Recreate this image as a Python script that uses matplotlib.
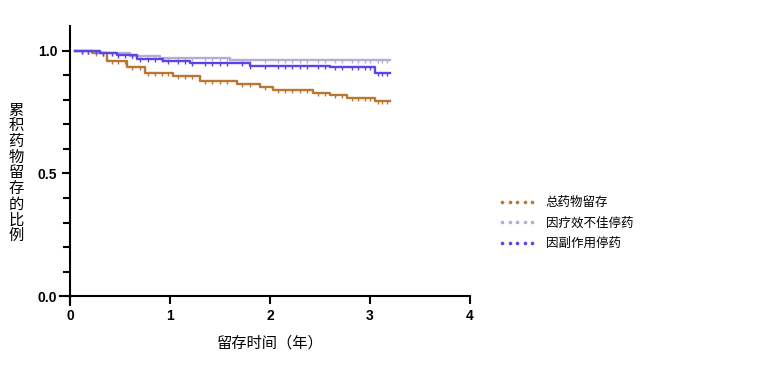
import numpy as np
import matplotlib
matplotlib.use("Agg")
import matplotlib.pyplot as plt
from matplotlib.lines import Line2D

plt.rcParams['font.family'] = ['Noto Sans CJK SC', 'DejaVu Sans']

# ---- data ----
series_names = ["总药物留存", "因疗效不佳停药", "因副作用停药"]

total_t = [0.05, 0.22, 0.37, 0.57, 0.75, 1.03, 1.30, 1.67, 1.90, 2.03, 2.43, 2.60, 2.77, 3.05, 3.20]
total_s = [1.00, 0.990, 0.960, 0.936, 0.909, 0.896, 0.879, 0.866, 0.852, 0.841, 0.830, 0.820, 0.810, 0.795, 0.795]

eff_t = [0.05, 0.30, 0.60, 0.90, 1.60, 3.20]
eff_s = [1.00, 0.993, 0.980, 0.972, 0.962, 0.962]

side_t = [0.05, 0.30, 0.47, 0.67, 0.93, 1.20, 1.80, 2.60, 3.05, 3.20]
side_s = [1.00, 0.993, 0.982, 0.969, 0.958, 0.950, 0.940, 0.935, 0.909, 0.909]

censor_times = [0.12, 0.18, 0.26, 0.33, 0.42, 0.48, 0.55, 0.62, 0.70, 0.78, 0.85, 0.92, 0.98,
                1.08, 1.15, 1.22, 1.35, 1.42, 1.50, 1.57, 1.72, 1.80, 1.95, 2.08, 2.15, 2.22,
                2.30, 2.37, 2.48, 2.55, 2.65, 2.72, 2.82, 2.88, 2.95, 3.00, 3.08, 3.12, 3.17]

colors = ["#BC7634", "#B4ABD6", "#5A46E6"]

x_ticks = [0, 1, 2, 3, 4]
y_major = [0.0, 0.5, 1.0]
y_labels = ["0.0", "0.5", "1.0"]

# ---- figure ----
fig = plt.figure(figsize=(7.59, 3.67), dpi=100)
ax = fig.add_axes([0.0922 - 0.0132, 0.170, 0.5402, 0.758])

def step_val(ts, ss, x):
    i = np.searchsorted(ts, x, side='right') - 1
    i = max(0, min(i, len(ss) - 1))
    return ss[i]

for ts, ss, c in zip([total_t, eff_t, side_t], [total_s, eff_s, side_s], colors):
    ax.step(ts, ss, where='post', color=c, lw=1.7, zorder=3)
    cx = [t for t in censor_times if ts[0] < t < ts[-1]]
    cy = [step_val(ts, ss, t) for t in cx]
    ax.plot(cx, cy, ls='none', marker=3, ms=2.5, mew=1.0, color=c, zorder=3)

ax.set_xlim(-0.1, 4.0)
ax.set_ylim(-0.035, 1.1)
ax.spines['left'].set_position(('data', 0))
ax.spines['bottom'].set_position(('data', 0))
ax.spines['top'].set_visible(False)
ax.spines['right'].set_visible(False)
for s in ['left', 'bottom']:
    ax.spines[s].set_linewidth(1.5)

ax.set_xticks(x_ticks)
ax.set_xticklabels([str(v) for v in x_ticks], fontsize=10, fontweight='bold', family='Liberation Sans')
ax.set_yticks(y_major)
ax.set_yticklabels(y_labels, fontsize=10, fontweight='bold', family='Liberation Sans')
ax.set_yticks(np.arange(0, 1.01, 0.1), minor=True)
ax.tick_params(axis='both', which='major', length=6, width=1.5, direction='out', pad=3)
ax.tick_params(axis='y', which='minor', length=5, width=1.5, direction='out')

fig.text(270 / 759, 1 - 343 / 367, "留存时间（年）", ha='center', va='center', fontsize=11)
fig.text(16 / 759, 1 - 173 / 367, "\n".join("累积药物留存的比例"), ha='center', va='center',
         fontsize=11, linespacing=0.9)

handles = [Line2D([0], [0], ls='none', marker='o', ms=2.6, mew=0, color=c) for c in colors]
leg = fig.legend(handles, series_names, loc='upper left', bbox_to_anchor=(487 / 759, 1 - 185 / 367),
                 frameon=False, fontsize=9, handlelength=3.0, numpoints=5, markerscale=1.0,
                 labelspacing=0.6, handletextpad=0.8)

fig.savefig("out.png", dpi=100)
